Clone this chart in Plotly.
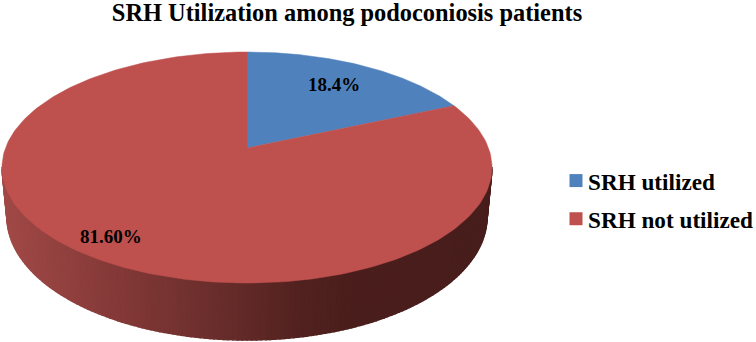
import numpy as np
import plotly.graph_objects as go

categories = ["SRH utilized", "SRH not utilized"]
shares = [18.4, 81.6]
labels = ["18.4%", "81.60%"]
colors = ["#4F81BD", "#BE504E"]
title = "SRH Utilization among podoconiosis patients"

# 3D-pie view (perspective of a tilted disc), in the axis' units
APEX_X, APEX_Y = 247, 148
F, G, K = 241.5, 112.2, 0.169
# rim ellipses of the disc's top and bottom faces
TOP = dict(cx=247, cy=167, rx=245, ry=116)
BOT = dict(cx=247, cy=217, rx=240, ry=123)
# wall shading: x position -> rgb
STOP_X = [0, 100, 200, 300, 350, 500]
STOP_R = [162, 136, 110, 82, 75, 72]
STOP_G = [74, 60, 48, 34, 30, 30]
STOP_B = [72, 58, 46, 32, 28, 28]


def project(theta):
    u, v = np.sin(theta), np.cos(theta)
    w = 1 + K * v
    return APEX_X + F * u / w, APEX_Y - G * v / w


fig = go.Figure()

# side wall, front half of the rim, drawn as thin shaded strips
phi = np.linspace(0, np.pi, 161)
for a, b in zip(phi[:-1], phi[1:]):
    ang = np.array([a, b])
    tx = TOP["cx"] + TOP["rx"] * np.cos(ang)
    ty = TOP["cy"] + TOP["ry"] * np.sin(ang)
    bx = BOT["cx"] + BOT["rx"] * np.cos(ang)
    by = BOT["cy"] + BOT["ry"] * np.sin(ang)
    xm = tx.mean()
    c = "rgb(%d,%d,%d)" % (np.interp(xm, STOP_X, STOP_R),
                           np.interp(xm, STOP_X, STOP_G),
                           np.interp(xm, STOP_X, STOP_B))
    fig.add_trace(go.Scatter(
        x=[tx[0], tx[1], bx[1], bx[0], tx[0]],
        y=[ty[0], ty[1], by[1], by[0], ty[0]],
        mode="lines", fill="toself", fillcolor=c,
        line=dict(color=c, width=1.5), showlegend=False, hoverinfo="skip"))

# top face: one wedge per share
total = sum(shares)
start = 0.0
for name, share, color in zip(categories, shares, colors):
    sweep = share / total * 2 * np.pi
    theta = np.linspace(start, start + sweep, 240)
    x, y = project(theta)
    fig.add_trace(go.Scatter(
        x=np.r_[APEX_X, x, APEX_X], y=np.r_[APEX_Y, y, APEX_Y],
        mode="lines", fill="toself", fillcolor=color,
        line=dict(color=color, width=0.5), showlegend=False,
        name=name, hoverinfo="name"))
    start += sweep

# legend entries
for name, color in zip(categories, colors):
    fig.add_trace(go.Scatter(
        x=[None], y=[None], mode="markers", name=name, legendgroup=name,
        marker=dict(symbol="square", size=13, color=color)))

fig.add_annotation(x=334, y=84, text=labels[0], showarrow=False,
                   font=dict(family="Liberation Serif", size=19, color="#000", weight=700))
fig.add_annotation(x=111, y=236, text=labels[1], showarrow=False,
                   font=dict(family="Liberation Serif", size=19, color="#000", weight=700))

fig.update_layout(
    width=756, height=342, autosize=False,
    margin=dict(l=0, r=0, t=0, b=0, autoexpand=False),
    paper_bgcolor="white", plot_bgcolor="white",
    xaxis=dict(range=[0, 756], visible=False, fixedrange=True),
    yaxis=dict(range=[342, 0], visible=False, fixedrange=True),
    title=dict(text=title, x=347 / 756, xanchor="center", y=1 - 12 / 342, yanchor="middle",
               font=dict(family="Liberation Serif", size=24.4, color="#000", weight=700)),
    legend=dict(x=548 / 756, y=1 - 200 / 342, xanchor="left", yanchor="middle",
                tracegroupgap=5, bgcolor="rgba(0,0,0,0)",
                font=dict(family="Liberation Serif", size=23.2, color="#000", weight=700)),
)
fig.write_html(
    "out.html",
    config={"displayModeBar": False},
    post_script=(
        "document.body.style.margin='0';"
        "document.querySelectorAll('.legend .legendsymbols')"
        ".forEach(function(n){n.setAttribute('transform','translate(8,0)');});"
    ),
)
